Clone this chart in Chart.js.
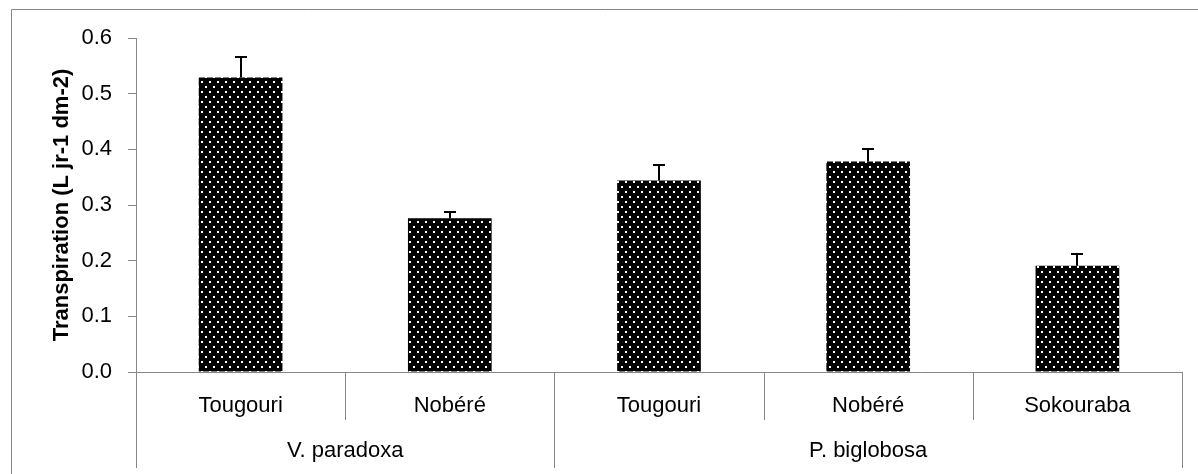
<!DOCTYPE html>
<html><head><meta charset="utf-8">
<script src="https://cdn.jsdelivr.net/npm/chart.js@4"></script>
<style>html,body{margin:0;padding:0;background:#fff;}</style>
</head><body>
<canvas id="c" width="1198" height="474" style="display:block;width:1198px;height:474px"></canvas>
<script>
// ---- data ----
const sites = ['Tougouri', 'Nobéré', 'Tougouri', 'Nobéré', 'Sokouraba'];
const species = ['V. paradoxa', 'V. paradoxa', 'P. biglobosa', 'P. biglobosa', 'P. biglobosa'];
const transpiration = [0.529, 0.276, 0.344, 0.378, 0.191];
const errorUp = [0.036, 0.012, 0.028, 0.022, 0.021];
const yMin = 0, yMax = 0.6, yStep = 0.1;
const yTitle = 'Transpiration (L jr-1 dm-2)';

const FONT = "'Liberation Sans', Arial, sans-serif";
const GREY = '#878787';

function dotPattern() {
  const c = document.createElement('canvas');
  c.width = 8; c.height = 10;
  const g = c.getContext('2d');
  g.fillStyle = '#000'; g.fillRect(0, 0, 8, 10);
  g.fillStyle = '#fff';
  g.fillRect(1, 1, 2, 2);
  g.fillRect(5, 6, 2, 2);
  return g.createPattern(c, 'repeat');
}

const decor = {
  id: 'decor',
  beforeDraw(chart) {
    const ctx = chart.ctx;
    ctx.save();
    ctx.fillStyle = '#fff';
    ctx.fillRect(0, 0, chart.width, chart.height);
    ctx.restore();
  },
  afterDatasetsDraw(chart) {
    const ctx = chart.ctx, xs = chart.scales.x, ys = chart.scales.y;
    ctx.save();
    ctx.strokeStyle = '#000';
    ctx.lineWidth = 2;
    transpiration.forEach((v, i) => {
      const x = Math.round(xs.getPixelForValue(i));
      const y0 = ys.getPixelForValue(v);
      const y1 = Math.round(ys.getPixelForValue(v + errorUp[i]));
      ctx.beginPath();
      ctx.moveTo(x, y0); ctx.lineTo(x, y1);
      ctx.moveTo(x - 6, y1); ctx.lineTo(x + 6, y1);
      ctx.stroke();
    });
    ctx.restore();
  },
  afterDraw(chart) {
    const ctx = chart.ctx, xs = chart.scales.x, ys = chart.scales.y;
    const n = sites.length;
    const w = (xs.right - xs.left) / n;
    const base = Math.round(ys.getPixelForValue(0)) + 0.5;
    ctx.save();
    ctx.strokeStyle = GREY;
    ctx.lineWidth = 1;
    // dividers
    for (let i = 0; i <= n; i++) {
      const x = Math.round(xs.getPixelForValue(i) - w / 2) + 0.5;
      const groupEdge = (i === 0 || i === n || species[i] !== species[i - 1]);
      ctx.beginPath();
      ctx.moveTo(x, base);
      ctx.lineTo(x, groupEdge ? 468 : 420);
      ctx.stroke();
    }
    // group labels
    ctx.fillStyle = '#000';
    ctx.font = '22px ' + FONT;
    ctx.textAlign = 'center';
    ctx.textBaseline = 'middle';
    let start = 0;
    for (let i = 1; i <= n; i++) {
      if (i === n || species[i] !== species[start]) {
        const x0 = xs.getPixelForValue(start) - w / 2;
        const x1 = xs.getPixelForValue(i - 1) + w / 2;
        ctx.fillText(species[start], (x0 + x1) / 2, 451);
        start = i;
      }
    }
    // outer frame (cut by the image edge)
    ctx.strokeStyle = GREY;
    ctx.beginPath();
    ctx.moveTo(11.5, chart.height + 2);
    ctx.lineTo(11.5, 9.5);
    ctx.lineTo(chart.width + 2, 9.5);
    ctx.stroke();
    ctx.restore();
  }
};

new Chart(document.getElementById('c'), {
  type: 'bar',
  data: {
    labels: sites,
    datasets: [{
      data: transpiration,
      backgroundColor: dotPattern(),
      borderColor: '#333',
      borderWidth: 0,
      barPercentage: 0.4,
      categoryPercentage: 1
    }]
  },
  options: {
    responsive: false,
    animation: false,
    devicePixelRatio: 1,
    layout: { padding: { left: 0, right: 16, top: 38, bottom: 0 } },
    plugins: { legend: { display: false }, tooltip: { enabled: false } },
    scales: {
      x: {
        grid: { display: false },
        border: { display: true, color: GREY, width: 1 },
        ticks: { color: '#000', font: { family: FONT, size: 22 }, padding: 13, maxRotation: 0, autoSkip: false },
        afterFit: s => { s.height = 102; }
      },
      y: {
        min: yMin, max: yMax,
        grid: { drawOnChartArea: false, drawTicks: true, tickLength: 8, color: GREY },
        border: { display: true, color: GREY, width: 1 },
        ticks: { stepSize: yStep, color: '#000', font: { family: FONT, size: 22 }, padding: 16,
                 callback: v => Number(v).toFixed(1) },
        title: { display: true, text: yTitle, color: '#000', font: { family: FONT, size: 22, weight: 'bold' },
                 padding: { top: 49, bottom: 0 } },
        afterFit: s => { s.width = 136; }
      }
    }
  },
  plugins: [decor]
});
</script>
</body></html>
